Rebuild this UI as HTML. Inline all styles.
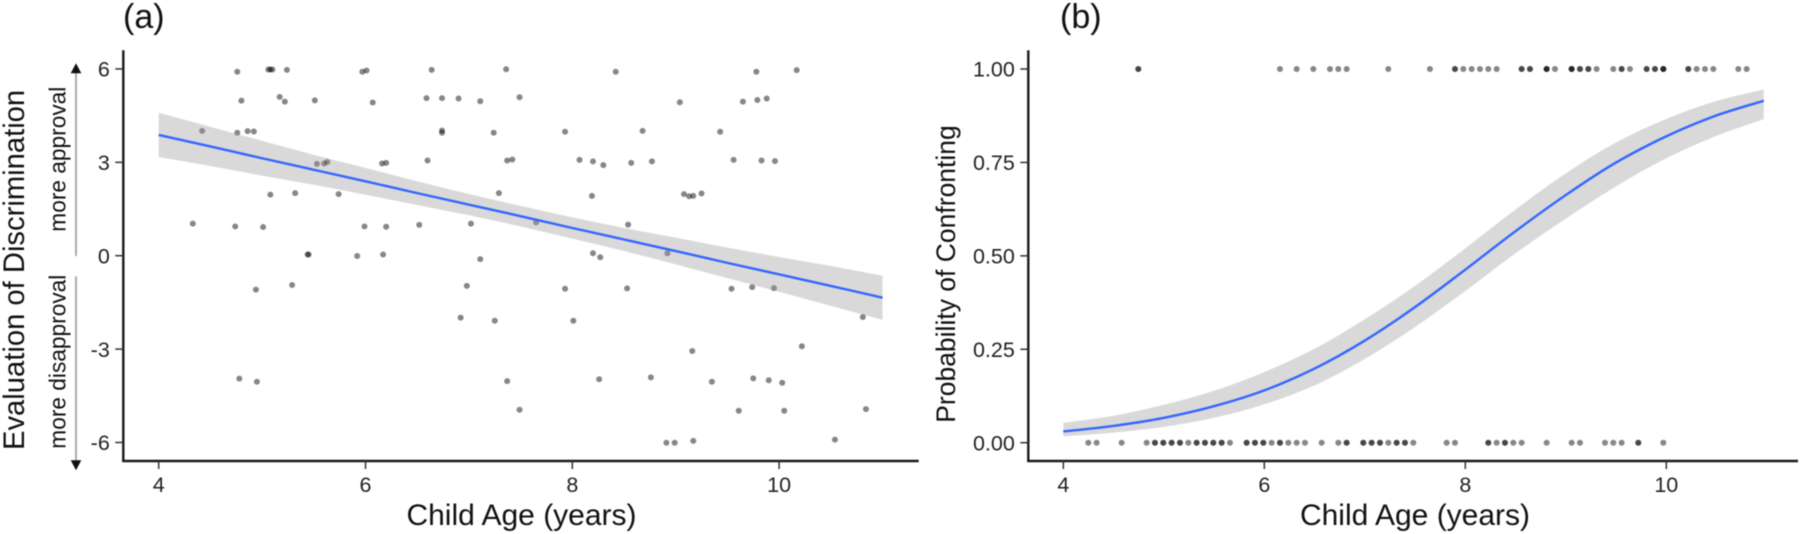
<!DOCTYPE html>
<html lang="en">
<head>
<meta charset="utf-8">
<title>Discrimination evaluation and confronting by child age</title>
<style>
html,body{margin:0;padding:0;background:#fff;width:1800px;height:534px;overflow:hidden}
svg{display:block;filter:blur(0.45px)}
text{font-family:"Liberation Sans",Arial,sans-serif;fill:#111}
</style>
</head>
<body>
<svg id="figure" width="1800" height="534" viewBox="0 0 1800 534" xmlns="http://www.w3.org/2000/svg">
  <rect x="0" y="0" width="1800" height="534" fill="#fff"/>
  <g id="panelA"></g>
  <g id="panelB"></g>
  <text x="123" y="28" font-size="34">(a)</text>
  <text x="1060" y="28" font-size="34">(b)</text>
  <text x="521.5" y="525" font-size="30" text-anchor="middle">Child Age (years)</text>
  <text x="1415" y="525" font-size="30" text-anchor="middle">Child Age (years)</text>
  <text transform="translate(24,450) rotate(-90)" font-size="29.2">Evaluation of Discrimination</text>
  <text transform="translate(955,274) rotate(-90)" font-size="26.5" text-anchor="middle">Probability of Confronting</text>
  <text transform="translate(65.7,231.7) rotate(-90)" font-size="22.7">more approval</text>
  <text transform="translate(65.7,448.7) rotate(-90)" font-size="22.7">more disapproval</text>
  <line x1="76" y1="256" x2="76" y2="72" stroke="#aaa" stroke-width="2"/>
  <polygon points="76,63.3 70.7,73.3 81.3,73.3" fill="#111"/>
  <line x1="76" y1="276.3" x2="76" y2="461" stroke="#aaa" stroke-width="2"/>
  <polygon points="76,470.3 70.7,460.3 81.3,460.3" fill="#111"/>
</svg>
<script>
// Panel (a) observations
const ratingAges = [4.76,5.06,5.08,5.10,5.24,5.97,6.01,6.64,4.80,5.17,5.22,5.51,6.07,6.59,6.74,4.42,4.76,4.86,4.92,6.74,6.74,5.53,5.60,5.63,6.16,6.20,6.60,5.08,5.32,5.74,4.33,4.74,5.01,5.99,6.20,6.52,5.44,5.45,5.92,6.17,4.94,5.29,4.78,4.95,7.36,8.42,9.78,10.17,6.90,7.11,7.49,9.04,9.65,9.79,9.88,7.24,7.93,8.68,9.43,7.37,7.42,8.07,8.20,8.30,8.57,8.77,9.56,9.83,9.96,7.29,8.19,9.08,9.13,9.17,9.25,7.02,7.65,8.54,7.11,8.20,8.27,8.92,6.98,7.93,8.53,9.54,9.74,9.95,6.92,7.25,8.01,9.16,10.22,7.37,8.26,8.76,9.35,9.75,9.90,10.03,7.49,9.61,10.05,8.91,8.99,9.17,10.54,10.81,10.84];
const ratingScores = [5.91,5.98,5.98,5.98,5.97,5.91,5.95,5.97,4.98,5.10,4.95,4.99,4.92,5.06,5.06,4.01,3.95,4.00,3.99,4.02,3.95,2.95,2.96,3.01,2.96,2.98,3.06,1.96,2.01,1.98,1.03,0.94,0.92,0.94,0.93,0.99,0.04,0.04,-0.01,0.04,-1.09,-0.94,-3.95,-4.05,5.99,5.91,5.91,5.96,5.05,4.96,5.09,4.93,4.95,5.00,5.05,3.95,3.98,4.01,3.98,3.06,3.09,3.08,3.03,2.91,2.98,3.03,3.08,3.06,3.04,2.01,1.92,1.98,1.91,1.92,2.00,1.03,1.07,1.00,-0.11,0.08,-0.05,0.08,-0.97,-1.06,-1.05,-1.06,-1.01,-1.04,-1.99,-2.09,-2.09,-3.06,-2.91,-4.03,-3.97,-3.91,-4.05,-3.94,-4.00,-4.08,-4.95,-4.98,-4.98,-6.01,-6.01,-5.95,-5.91,-1.97,-4.93];
// Panel (a) fitted line and confidence band
const ratingFitAges = [4,4.5,5,5.5,6,6.5,7,7.5,8,8.5,9,9.5,10,10.5,11];
const ratingFit = [3.88,3.51,3.13,2.76,2.39,2.01,1.64,1.27,0.89,0.52,0.15,-0.23,-0.60,-0.97,-1.35];
const ratingUpper = [4.59,4.14,3.69,3.24,2.82,2.39,1.98,1.60,1.23,0.89,0.58,0.26,-0.04,-0.33,-0.64];
const ratingLower = [3.17,2.88,2.57,2.28,1.96,1.63,1.30,0.94,0.55,0.15,-0.28,-0.72,-1.16,-1.61,-2.06];
// Panel (b) observations, as age in recorded age-step counts (repeats stack darker)
const confrontedSteps = [57,57,74,76,78,80,81,82,87,92,95,95,96,97,98,99,100,103,103,104,104,106,106,106,107,109,109,109,110,110,111,111,112,114,115,115,116,118,118,119,119,120,120,120,123,123,124,125,126,129,130];
const notConfrontedSteps = [51,52,55,58,59,59,60,60,61,61,62,62,63,64,64,65,65,66,66,67,67,68,70,70,71,71,72,72,73,74,74,75,76,77,79,81,82,82,84,84,85,85,86,86,87,88,88,89,89,90,94,95,99,99,100,101,101,102,103,106,109,110,113,114,115,117,117,120];
// Panel (b) fitted curve and confidence band
const confrontFitAges = [4,4.5,4.99,5.49,5.99,6.49,6.98,7.48,7.98,8.48,8.98,9.47,9.97,10.47,10.97];
const confrontFit = [0.030,0.045,0.066,0.097,0.139,0.197,0.270,0.359,0.459,0.562,0.659,0.745,0.816,0.873,0.915];
const confrontUpper = [0.053,0.072,0.101,0.138,0.188,0.250,0.327,0.416,0.516,0.620,0.717,0.799,0.863,0.912,0.945];
const confrontLower = [0.017,0.027,0.042,0.066,0.102,0.152,0.221,0.306,0.402,0.503,0.596,0.681,0.757,0.818,0.866];
// Tick labels
const ageTicks = [4,6,8,10];
const ratingTicks = [-6,-3,0,3,6];
const probabilityTicks = ["0.00","0.25","0.50","0.75","1.00"];

const SVG_NS = "http://www.w3.org/2000/svg";
function make(tag, parent, attrs){
  const el = document.createElementNS(SVG_NS, tag);
  for (const k in attrs) el.setAttribute(k, attrs[k]);
  parent.appendChild(el);
  return el;
}
function smoothPath(px, py, start){
  let d = start + px[0].toFixed(2) + " " + py[0].toFixed(2);
  for (let i = 0; i < px.length - 1; i++){
    const p0 = Math.max(i - 1, 0), p3 = Math.min(i + 2, px.length - 1);
    const c1x = px[i] + (px[i + 1] - px[p0]) / 6, c1y = py[i] + (py[i + 1] - py[p0]) / 6;
    const c2x = px[i + 1] - (px[p3] - px[i]) / 6, c2y = py[i + 1] - (py[p3] - py[i]) / 6;
    d += " C" + c1x.toFixed(2) + " " + c1y.toFixed(2) + " " + c2x.toFixed(2) + " " + c2y.toFixed(2) + " " + px[i + 1].toFixed(2) + " " + py[i + 1].toFixed(2);
  }
  return d;
}
function drawAxes(g, xLeft, xRight, xScale, yScale, yTicks, yValue){
  const yTop = 50.2, yBottom = 461;
  const yAxis = make("line", g, {x1: xLeft, x2: xLeft, y1: yTop, y2: yBottom + 1, stroke: "#1a1a1a", "stroke-width": 2.4});
  
  
  const xAxis = make("line", g, {x1: xLeft - 1, x2: xRight, y1: yBottom, y2: yBottom, stroke: "#1a1a1a", "stroke-width": 2.4});
  
  
  ageTicks.forEach(function(t){
    const x = xScale(t);
    const tick = make("line", g, {x1: x, x2: x, y1: yBottom, y2: yBottom + 8, stroke: "#333", "stroke-width": 1.5});
    
    
    const label = make("text", g, {x: x, y: 492, "font-size": 21.5, "text-anchor": "middle", style: "fill:#222"});
    label.textContent = t;
    
    
  });
  yTicks.forEach(function(t){
    const y = yScale(yValue(t));
    const tick = make("line", g, {x1: xLeft - 8, x2: xLeft, y1: y, y2: y, stroke: "#333", "stroke-width": 1.5});
    
    
    const label = make("text", g, {x: xLeft - 13.5, y: y + 7.7, "font-size": 21.5, "text-anchor": "end", style: "fill:#222"});
    label.textContent = t;
    
    
  });
}
function drawFit(g, ages, fit, upper, lower, xScale, yScale){
  const px = ages.map(xScale);
  const up = upper.map(yScale), low = lower.map(yScale), mid = fit.map(yScale);
  const rpx = px.slice().reverse(), rlow = low.slice().reverse();
  const bandPath = smoothPath(px, up, "M") + smoothPath(rpx, rlow, " L") + " Z";
  const band = make("path", g, {d: bandPath, fill: "#999", "fill-opacity": 0.37});
  
  
  const line = make("path", g, {d: smoothPath(px, mid, "M"), fill: "none", stroke: "#3366FF", "stroke-width": 2.4});
  
  
}

// Panel (a)
const panelA = document.getElementById("panelA");
const xA = function(age){ return 158.7 + (age - 4) * 103.4; };
const yA = function(v){ return 255.7 - v * 31.13; };
ratingAges.forEach(function(age, i){
  const dot = make("circle", panelA, {cx: xA(age), cy: yA(ratingScores[i]), r: 3, fill: "#000", "fill-opacity": 0.47});
  
  
});
drawFit(panelA, ratingFitAges, ratingFit, ratingUpper, ratingLower, xA, yA);
drawAxes(panelA, 123.3, 918.7, xA, yA, ratingTicks, function(t){ return t; });

// Panel (b)
const panelB = document.getElementById("panelB");
const xB = function(age){ return 1063.3 + (age - 4) * 100.5; };
const yB = function(p){ return 442.7 - p * 373.7; };
const stepToAge = function(s){ return 4 + (s - 48) * 0.08292; };
confrontedSteps.forEach(function(s){
  const dot = make("circle", panelB, {cx: xB(stepToAge(s)), cy: yB(1), r: 3, fill: "#000", "fill-opacity": 0.47});
  
  
});
notConfrontedSteps.forEach(function(s){
  const dot = make("circle", panelB, {cx: xB(stepToAge(s)), cy: yB(0), r: 3, fill: "#000", "fill-opacity": 0.47});
  
  
});
drawFit(panelB, confrontFitAges, confrontFit, confrontUpper, confrontLower, xB, yB);
drawAxes(panelB, 1028.3, 1798, xB, yB, probabilityTicks, function(t){ return parseFloat(t); });
</script>
</body>
</html>
